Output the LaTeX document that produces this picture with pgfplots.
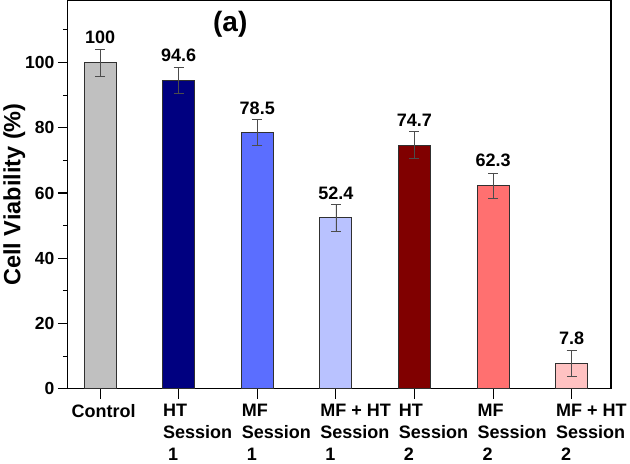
\documentclass[border=0pt]{standalone}
\usepackage{fontspec}
\setmainfont{Liberation Sans}
\usepackage{pgfplots}
\pgfplotsset{compat=1.18}

\definecolor{ctrl}{HTML}{C0C0C0}
\definecolor{htone}{HTML}{000080}
\definecolor{mfone}{HTML}{5B6EFF}
\definecolor{mfhtone}{HTML}{B9C2FF}
\definecolor{httwo}{HTML}{800000}
\definecolor{mftwo}{HTML}{FF7070}
\definecolor{mfhttwo}{HTML}{FFC2C2}
\definecolor{edge}{HTML}{303030}

\pgfplotsset{
  errstyle/.style={
    error bars/y dir=both, error bars/y explicit,
    error bars/error bar style={line width=0.5pt, black!70},
    error bars/error mark options={rotate=90, mark size=5pt, line width=0.5pt, black!70},
  }
}

\begin{document}
\begin{tikzpicture}
\begin{axis}[
    scale only axis, width=543pt, height=388pt,
    ybar, bar width=32pt, bar shift=0pt,
    xmin=-0.41, xmax=6.5, ymin=0, ymax=119,
    axis line style={black, line width=1.2pt},
    xtick={0,1,2,3,4,5,6},
    xticklabels={{\hspace*{-13pt}Control},{HT\\Session\\\hspace*{5pt}1},{MF\\Session\\\hspace*{5pt}1},{MF + HT\\Session\\\hspace*{5pt}1},{HT\\Session\\\hspace*{5pt}2},{MF\\Session\\\hspace*{5pt}2},{MF + HT\\Session\\\hspace*{5pt}2}},
    xticklabel style={font=\fontsize{18}{22}\selectfont\bfseries, align=left, anchor=north west, xshift=-19pt, yshift=-2pt},
    ytick={0,20,40,60,80,100}, minor ytick={10,30,50,70,90,110},
    yticklabel style={font=\fontsize{17.5}{20}\selectfont\bfseries},
    /pgf/number format/assume math mode=true,
    tick align=outside, major tick length=10pt, minor tick length=5pt,
    tick style={black, line width=1pt},
    xtick pos=bottom, ytick pos=left,
    ylabel={Cell Viability (\%)},
    ylabel style={font=\fontsize{23.5}{26}\selectfont\bfseries, yshift=-7pt},
    nodes near coords,
    nodes near coords style={font=\fontsize{18}{20}\selectfont\bfseries, anchor=south, inner sep=0pt, yshift=18pt, black},
    /pgf/number format/.cd, fixed, precision=1, /pgfplots/.cd,
    every axis plot/.append style={draw=edge, line width=0.8pt, errstyle},
]
\addplot[fill=ctrl] coordinates {(0,100) +- (0,4.2)};
\addplot[fill=htone] coordinates {(1,94.6) +- (0,3.9)};
\addplot[fill=mfone] coordinates {(2,78.5) +- (0,4.0)};
\addplot[fill=mfhtone] coordinates {(3,52.4) +- (0,4.2)};
\addplot[fill=httwo] coordinates {(4,74.7) +- (0,4.1)};
\addplot[fill=mftwo] coordinates {(5,62.3) +- (0,3.9)};
\addplot[fill=mfhttwo] coordinates {(6,7.8) +- (0,3.9)};
\node[font=\fontsize{28}{30}\selectfont\bfseries] at (rel axis cs:0.299,0.94) {(a)};
\end{axis}
\end{tikzpicture}
\end{document}
